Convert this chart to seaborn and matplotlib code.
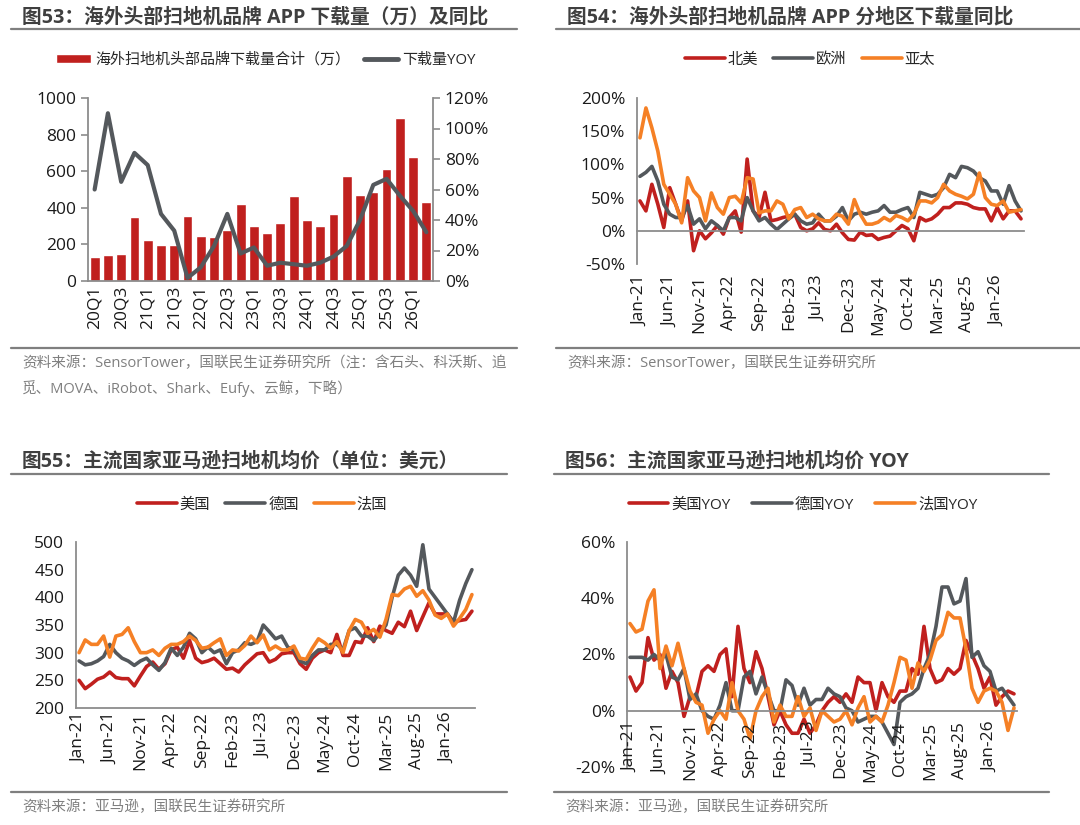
import numpy as np
import pandas as pd
import seaborn as sns
import matplotlib.pyplot as plt
from matplotlib.lines import Line2D
from matplotlib.patches import Patch
from matplotlib.ticker import PercentFormatter

# 图53 数据
quarters = ['20Q1', '20Q2', '20Q3', '20Q4', '21Q1', '21Q2', '21Q3', '21Q4',
            '22Q1', '22Q2', '22Q3', '22Q4', '23Q1', '23Q2', '23Q3', '23Q4',
            '24Q1', '24Q2', '24Q3', '24Q4', '25Q1', '25Q2', '25Q3', '25Q4',
            '26Q1', '26Q2']
downloads = [130, 140, 150, 350, 225, 195, 195, 355, 245, 240, 280, 420, 300,
             265, 315, 465, 335, 300, 365, 575, 470, 485, 610, 890, 680, 430]
yoy_total = [60, 110, 65, 84, 76, 44, 33, 2, 9, 23, 44, 18, 22, 10, 12, 11,
             10, 12, 16, 23, 40, 63, 67, 56, 46, 32]

# 月度横轴 (Jan-21 ~ May-26)
months = pd.date_range('2021-01-01', periods=65, freq='MS').strftime('%b-%y').tolist()

# 图54 数据 (%)
na_yoy = [45, 30, 70, 40, 5, 65, 40, 15, 45, -30, 0, -12, -3, 8, -5, 20, 30, -2,
          108, 30, 20, 58, 15, 17, 20, 22, 25, 5, 0, 3, 12, 2, 0, 10, -3, -13,
          -14, -2, -7, -6, -13, -10, -8, 0, 8, 3, -15, 20, 15, 18, 25, 35, 35,
          42, 42, 40, 35, 33, 33, 15, 35, 18, 30, 30, 18]
eu_yoy = [82, 88, 97, 75, 40, 25, 20, 20, 38, 10, 18, 3, 15, 8, 0, 20, 20, 15,
          50, 30, 15, 20, 10, 2, 10, 18, 25, 15, 10, 12, 25, 15, 15, 22, 35, 15,
          25, 28, 25, 28, 30, 38, 28, 28, 32, 35, 20, 58, 55, 52, 55, 65, 85, 80,
          97, 95, 90, 80, 75, 60, 60, 40, 68, 45, 30]
ap_yoy = [140, 185, 155, 120, 70, 55, 40, 12, 80, 60, 50, 15, 57, 35, 25, 50,
          52, 42, 80, 78, 27, 30, 30, 45, 40, 18, 32, 35, 20, 25, 18, 15, 15, 25,
          22, 10, 47, 25, 10, 10, 13, 20, 15, 23, 20, 15, 25, 45, 45, 42, 50, 70,
          60, 55, 52, 48, 55, 87, 50, 40, 38, 45, 28, 30, 32]

# 图55 数据 (美元)
us_price = [250, 235, 243, 252, 256, 265, 255, 253, 253, 240, 258, 275, 283,
            270, 280, 305, 310, 290, 322, 290, 282, 285, 290, 280, 270, 272, 265,
            278, 288, 298, 300, 283, 288, 298, 300, 300, 280, 270, 290, 300, 305,
            300, 333, 295, 295, 320, 318, 345, 320, 348, 340, 335, 355, 347, 375,
            340, 365, 390, 370, 370, 370, 355, 358, 360, 375]
de_price = [285, 278, 280, 285, 293, 315, 300, 290, 285, 277, 285, 290, 278,
            268, 282, 308, 295, 310, 335, 325, 300, 310, 300, 305, 280, 300, 305,
            318, 315, 320, 350, 338, 325, 330, 310, 305, 285, 280, 295, 305, 305,
            315, 315, 305, 340, 345, 330, 330, 322, 335, 350, 400, 440, 453, 440,
            420, 495, 415, 400, 385, 370, 355, 395, 425, 450]
fr_price = [300, 323, 315, 315, 330, 292, 330, 333, 345, 320, 300, 300, 305,
            295, 308, 315, 315, 320, 330, 322, 308, 310, 318, 325, 295, 305, 303,
            313, 330, 318, 332, 305, 312, 305, 305, 312, 290, 288, 308, 325, 318,
            308, 320, 300, 340, 360, 355, 335, 342, 328, 360, 405, 403, 415, 420,
            402, 412, 395, 368, 362, 370, 348, 362, 378, 405]

# 图56 数据 (%)
us_price_yoy = [12, 7, 10, 26, 18, 20, 8, 14, 10, -2, 5, 5, 14, 16, 14, 20, 22,
                5, 30, 15, 10, 21, 15, 5, -5, 0, -5, -8, -8, -3, -8, -5, 0, 3, 5,
                3, 6, 3, 12, 10, 10, 0, 10, 5, 3, 7, 7, 15, 13, 30, 15, 10, 11,
                15, 13, 15, 25, 20, 15, 8, 12, 2, 5, 7, 6]
de_price_yoy = [19, 19, 19, 18, 20, 18, 20, 12, 11, 15, 4, 6, 0, -2, -3, 2, 10,
                0, 0, 12, 14, 6, 12, 6, 0, 0, 11, 9, 2, 8, 2, 4, 4, 8, 6, 5, 1, 0,
                -4, -3, -2, -2, -4, -8, -12, 3, 5, 6, 8, 15, 20, 30, 44, 44, 38,
                39, 47, 19, 21, 16, 14, 7, 8, 5, 2]
fr_price_yoy = [31, 28, 29, 39, 43, 15, 23, 16, 24, 15, 7, 3, 2, -8, -3, 0, -3,
                10, 0, -3, -10, 0, 5, 8, -4, 2, -2, -2, 5, -2, 1, -7, 0, -2, -4,
                -3, 0, -5, 1, 5, -4, -2, -4, 2, 10, 19, 18, 8, 17, 14, 18, 25, 27,
                35, 33, 33, 22, 8, 3, 7, 8, 7, 3, -7, 1]

RED = '#C0201E'
GRAY = '#54585C'
ORANGE = '#F58025'
AXIS = '#8C8C8C'
FONTS = ['Open Sans', 'Noto Sans CJK SC', 'DejaVu Sans']
TICK_SIZE = 12.5
LEG_SIZE = 11

W, H = 1080, 825


def rect(x0, y0, x1, y1):
    # 像素坐标 -> figure 比例
    return [x0 / W, 1 - y1 / H, (x1 - x0) / W, (y1 - y0) / H]


def hline(fig, x0, x1, y, lw=1.6):
    fig.add_artist(Line2D([x0 / W, x1 / W], [1 - y / H, 1 - y / H],
                          transform=fig.transFigure, color='#7F7F7F', lw=lw))


def header(fig, x, y, line_x1, title, y_rule, sources):
    fig.text(x / W, 1 - y / H, title, fontsize=14.2, weight='bold',
             color='#3F3F3F', va='center', ha='left')
    hline(fig, x - 11, line_x1, y + 12)
    hline(fig, x - 11, line_x1, y_rule)
    for k, s in enumerate(sources):
        fig.text(x / W, 1 - (y_rule + 16 + 25 * k) / H, s, fontsize=10.5,
                 color='#7F7F7F', va='center', ha='left')


def style_axis(ax):
    for side in ['top', 'right']:
        ax.spines[side].set_visible(False)
    for side in ['left', 'bottom']:
        ax.spines[side].set_color(AXIS)
        ax.spines[side].set_linewidth(1.3)
    ax.tick_params(axis='both', colors=AXIS, labelcolor='#1A1A1A',
                   labelsize=TICK_SIZE, length=5, width=1.2)
    ax.set_xlabel('')
    ax.set_ylabel('')


def month_ticks(ax, label_ax=None, pad=3):
    n = len(months)
    ax.set_xlim(-0.5, n - 0.5)
    ax.set_xticks(np.arange(-0.5, n, 5), [''] * len(np.arange(-0.5, n, 5)))
    lab = label_ax if label_ax is not None else ax
    lab.set_xticks(np.arange(0, n, 5), minor=(label_ax is None))
    lab.set_xticklabels(months[::5], rotation=90, minor=(label_ax is None))
    which = 'minor' if label_ax is None else 'major'
    lab.tick_params(axis='x', which=which, length=0, pad=pad,
                    labelsize=TICK_SIZE, labelcolor='#1A1A1A')


def draw_lines(ax, series, colors):
    idx = np.arange(len(months))
    df = pd.DataFrame({
        'i': np.tile(idx, len(series)),
        'v': np.concatenate([np.asarray(v, dtype=float) for v in series.values()]),
        's': np.repeat(list(series.keys()), len(idx)),
    })
    sns.lineplot(data=df, x='i', y='v', hue='s', hue_order=list(series),
                 palette=colors, lw=2.6, ax=ax, legend=False)
    return ax.get_lines()[:len(series)]


def main():
    sns.set_style('white')
    plt.rcParams['font.family'] = FONTS
    plt.rcParams['axes.unicode_minus'] = False

    fig = plt.figure(figsize=(10.8, 8.25), dpi=100)

    # ---------- 图53 ----------
    header(fig, 22, 17, 517, '图53：海外头部扫地机品牌 APP 下载量（万）及同比', 348,
           ['资料来源：SensorTower，国联民生证券研究所（注：含石头、科沃斯、追',
            '觅、MOVA、iRobot、Shark、Eufy、云鲸，下略）'])
    ax1 = fig.add_axes(rect(88, 98, 433, 281))
    x = np.arange(len(quarters))
    sns.barplot(x=x, y=downloads, color=RED, saturation=1, width=0.74,
                native_scale=True, ax=ax1)
    ax1.set_ylim(0, 1000)
    ax1.set_yticks(range(0, 1001, 200))
    style_axis(ax1)
    ax1b = ax1.twinx()
    sns.lineplot(x=x, y=yoy_total, color=GRAY, lw=3, ax=ax1b)
    ax1b.set_ylim(0, 120)
    ax1b.set_yticks(range(0, 121, 20))
    ax1b.yaxis.set_major_formatter(PercentFormatter(100, decimals=0))
    for side in ['top', 'left', 'bottom']:
        ax1b.spines[side].set_visible(False)
    ax1b.spines['right'].set_color(AXIS)
    ax1b.spines['right'].set_linewidth(1.3)
    ax1b.tick_params(axis='y', colors=AXIS, labelcolor='#1A1A1A',
                     labelsize=TICK_SIZE, length=5, width=1.2)
    ax1b.set_ylabel('')
    ax1.set_xlim(-0.5, len(quarters) - 0.5)
    ax1.set_xticks(np.arange(-0.5, len(quarters), 1),
                   [''] * (len(quarters) + 1))
    ax1.set_xticks(x[::2], minor=True)
    ax1.set_xticklabels(quarters[::2], minor=True, rotation=90)
    ax1.tick_params(axis='x', which='minor', length=0, pad=3,
                    labelsize=TICK_SIZE, labelcolor='#1A1A1A')
    fig.legend([Patch(facecolor=RED), Line2D([], [], color=GRAY, lw=3.5)],
               ['海外扫地机头部品牌下载量合计（万）', '下载量YOY'],
               loc='center', bbox_to_anchor=(266 / W, 1 - 60 / H), ncol=2,
               frameon=False, fontsize=10.8, handlelength=2.3,
               handleheight=0.55, handletextpad=0.3, columnspacing=0.9)

    # ---------- 图54 ----------
    header(fig, 567, 17, 1080, '图54：海外头部扫地机品牌 APP 分地区下载量同比', 348,
           ['资料来源：SensorTower，国联民生证券研究所'])
    ax2 = fig.add_axes(rect(637, 98, 1024, 264))
    h2 = draw_lines(ax2, {'北美': na_yoy, '欧洲': eu_yoy, '亚太': ap_yoy},
                    [RED, GRAY, ORANGE])
    ax2.set_ylim(-50, 200)
    ax2.set_yticks(range(-50, 201, 50))
    ax2.yaxis.set_major_formatter(PercentFormatter(100, decimals=0))
    style_axis(ax2)
    ax2.spines['bottom'].set_position(('data', 0))
    sec2 = ax2.secondary_xaxis('bottom')
    sec2.spines['bottom'].set_visible(False)
    month_ticks(ax2, label_ax=sec2, pad=8)
    fig.legend(h2, ['北美', '欧洲', '亚太'], loc='center',
               bbox_to_anchor=(810 / W, 1 - 60 / H), ncol=3, frameon=False,
               fontsize=LEG_SIZE, handlelength=2.6, handletextpad=0.2,
               columnspacing=1.0)

    # ---------- 图55 ----------
    header(fig, 22, 462, 507, '图55：主流国家亚马逊扫地机均价（单位：美元）', 792,
           ['资料来源：亚马逊，国联民生证券研究所'])
    ax3 = fig.add_axes(rect(76, 542, 475, 708))
    h3 = draw_lines(ax3, {'美国': us_price, '德国': de_price, '法国': fr_price},
                    [RED, GRAY, ORANGE])
    ax3.set_ylim(200, 500)
    ax3.set_yticks(range(200, 501, 50))
    style_axis(ax3)
    month_ticks(ax3, pad=3)
    fig.legend(h3, ['美国', '德国', '法国'], loc='center',
               bbox_to_anchor=(262 / W, 1 - 505 / H), ncol=3, frameon=False,
               fontsize=LEG_SIZE, handlelength=2.6, handletextpad=0.2,
               columnspacing=1.0)

    # ---------- 图56 ----------
    header(fig, 565, 462, 1049, '图56：主流国家亚马逊扫地机均价 YOY', 792,
           ['资料来源：亚马逊，国联民生证券研究所'])
    ax4 = fig.add_axes(rect(627, 542, 1017, 767))
    h4 = draw_lines(ax4, {'美国YOY': us_price_yoy, '德国YOY': de_price_yoy,
                          '法国YOY': fr_price_yoy},
                    [RED, GRAY, ORANGE])
    ax4.set_ylim(-20, 60)
    ax4.set_yticks(range(-20, 61, 20))
    ax4.yaxis.set_major_formatter(PercentFormatter(100, decimals=0))
    style_axis(ax4)
    ax4.spines['bottom'].set_position(('data', 0))
    ax4.set_axisbelow(False)
    month_ticks(ax4, pad=8)
    fig.legend(h4, ['美国YOY', '德国YOY', '法国YOY'], loc='center',
               bbox_to_anchor=(803 / W, 1 - 505 / H), ncol=3, frameon=False,
               fontsize=LEG_SIZE, handlelength=2.6, handletextpad=0.2,
               columnspacing=1.4)

    fig.savefig('out.png', dpi=100, facecolor='white')


if __name__ == '__main__':
    main()
